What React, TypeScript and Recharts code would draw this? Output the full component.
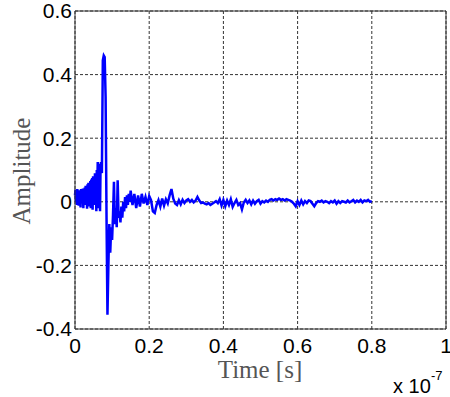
import { CartesianGrid, Line, LineChart, ReferenceLine, XAxis, YAxis } from "recharts";

// Time axis is in units of 1e-7 s (the "x 10^-7" multiplier under the axis).
const xTicks = [0, 0.2, 0.4, 0.6, 0.8, 1];
const yTicks = [-0.4, -0.2, 0, 0.2, 0.4, 0.6];

// Pre-pulse noise, finely sampled, amplitude growing toward the pulse.
const noiseSpan = [0, 0.07];
const noiseAmp = [
  0.02, 0.038, 0.0, 0.035, -0.01, 0.04, 0.015, 0.03, -0.012, 0.036,
  0.005, 0.028, -0.018, 0.04, 0.01, 0.035, -0.005, 0.042, -0.02, 0.03,
  0.012, 0.045, -0.01, 0.05, 0.0, 0.04, -0.022, 0.055, 0.008, 0.06,
  -0.015, 0.05, 0.02, 0.065, -0.02, 0.07, 0.01, 0.075, -0.025, 0.08,
  0.015, 0.07, -0.01, 0.09, 0.02, 0.085, -0.03, 0.1, 0.03, 0.125,
  -0.02, 0.11, 0.04, 0.12, -0.03, 0.1, 0.125,
];

// Main pulse and the ring-down right after it.
const pulseSpan = [0.0725, 0.15];
const pulseAmp = [
  0.09, 0.445, 0.46, 0.455, 0.33, -0.05, -0.355, -0.2, -0.07, -0.16,
  -0.08, -0.12, -0.04, 0.063, -0.07, -0.02, -0.08, 0.068, -0.05, -0.03,
  -0.065, -0.015, -0.05, 0.0, -0.03, 0.015, -0.02, 0.02, -0.01, 0.025,
  0.0, 0.035,
];

// Remainder of the record: low-level residual ripple.
const tailSpan = [0.155, 0.8];
const tailAmp = [
  -0.01, 0.025, -0.02, 0.02, -0.015, 0.025, -0.005, 0.015, -0.01, 0.018,
  0.005, -0.03, -0.035, -0.01, 0.005, -0.015, 0.01, -0.012, 0.008, -0.005,
  0.02, 0.04, 0.01, -0.005, -0.01, 0.005, -0.008, 0.006, -0.004, 0.004,
  0.008, 0.0, 0.006, -0.002, 0.004, 0.015, 0.004, -0.004, -0.002, -0.006,
  -0.008, -0.004, -0.01, -0.006, -0.002, 0.002, -0.004, 0.008, -0.012, 0.006,
  -0.014, 0.004, -0.01, 0.008, -0.016, -0.004, 0.006, -0.01, -0.004, -0.024,
  -0.002, 0.006, -0.004, 0.004, -0.008, 0.004, -0.006, 0.002, 0.006, -0.006,
  0.002, -0.002, 0.004, 0.0, 0.006, 0.008, 0.004, 0.008, 0.006, 0.01,
  0.006, 0.008, 0.004, 0.008, 0.006, 0.004, 0.0, -0.006, -0.014, 0.002,
  -0.01, 0.004, -0.008, 0.002, -0.004, 0.004, 0.002, -0.006, -0.014, -0.004,
  0.002, 0.0, 0.004, -0.002, 0.002, 0.0, -0.004, 0.002, -0.002, 0.004,
  -0.006, 0.002, -0.004, 0.002, 0.0, -0.002, 0.004, -0.002, 0.002, 0.006,
  -0.002, 0.004, 0.0, 0.006, -0.002, 0.004, 0.002, 0.006, 0.0, 0.002,
];

function sampled(span: number[], amp: number[]) {
  const dt = (span[1] - span[0]) / (amp.length - 1);
  return amp.map((a, i) => ({ t: span[0] + i * dt, a }));
}

const rows = [
  ...sampled(noiseSpan, noiseAmp),
  ...sampled(pulseSpan, pulseAmp),
  ...sampled(tailSpan, tailAmp),
];

const W = 450;
const H = 397;
const sans = "'Liberation Sans', Arial, sans-serif";
const serif = "'Liberation Serif', 'Times New Roman', serif";
const tickFont = { fill: "#000", fontSize: 21, fontFamily: sans };

const fmt = (v: number) => (v === 0 || v === 1 ? String(v) : v.toFixed(1));

export default function App() {
  return (
    <div style={{ position: "absolute", left: 0, top: 0, width: W, height: H, background: "#fff" }}>
      <LineChart width={W} height={H} data={rows} margin={{ top: 11, right: 4, bottom: 38, left: 0 }}>
        <CartesianGrid stroke="#333" strokeDasharray="3 2" />
        <XAxis
          type="number"
          dataKey="t"
          domain={[0, 1]}
          ticks={xTicks}
          interval={0}
          height={30}
          tickSize={0}
          tickMargin={9}
          tickFormatter={fmt}
          tick={tickFont}
          stroke="#333"
        />
        <YAxis
          type="number"
          domain={[-0.4, 0.6]}
          ticks={yTicks}
          interval={0}
          width={75}
          tickSize={0}
          tickMargin={3}
          tickFormatter={fmt}
          tick={tickFont}
          stroke="#333"
        />
        <ReferenceLine y={0.6} stroke="#333" />
        <ReferenceLine x={1} stroke="#333" />
        <Line
          type="linear"
          dataKey="a"
          stroke="#0000ff"
          strokeWidth={2.5}
          dot={false}
          isAnimationActive={false}
        />
      </LineChart>
      <svg width={W} height={H} style={{ position: "absolute", left: 0, top: 0, pointerEvents: "none" }}>
        <text transform="translate(30,171) rotate(-90)" textAnchor="middle" fontFamily={serif} fontSize={25} fill="#555">
          Amplitude
        </text>
        <text x={260} y={378} textAnchor="middle" fontFamily={serif} fontSize={25} fill="#555">
          Time [s]
        </text>
        <text x={393} y={393} fontFamily={sans} fontSize={20} fill="#000">
          x 10
        </text>
        <text x={431} y={380} fontFamily={sans} fontSize={13} fill="#000">
          -7
        </text>
      </svg>
    </div>
  );
}
